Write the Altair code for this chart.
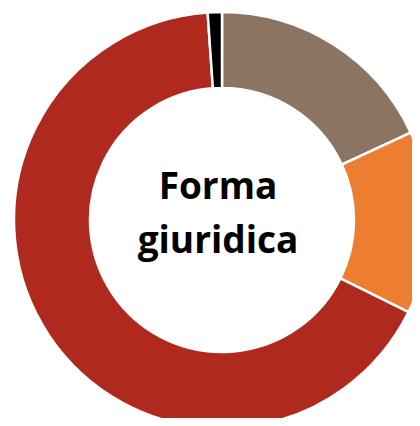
import altair as alt
import pandas as pd

categories = ["Categoria A", "Categoria B", "Categoria C", "Categoria D"]
values = [18.1, 14.2, 66.6, 1.1]
colors = ["#8B7461", "#ED7D31", "#B0291F", "#000000"]
center_lines = ["Forma", "giuridica"]

df = pd.DataFrame({"categoria": categories, "valore": values, "ordine": list(range(len(categories)))})

arc = alt.Chart(df).mark_arc(
    outerRadius=208, innerRadius=132, stroke="white", strokeWidth=2.5
).encode(
    theta=alt.Theta("valore:Q", stack=True),
    order=alt.Order("ordine:Q"),
    color=alt.Color("categoria:N", scale=alt.Scale(domain=categories, range=colors), legend=None),
    x=alt.value(214),
    y=alt.value(212),
)

text = alt.Chart(df).mark_text(
    font="Open Sans", fontWeight="bold", fontSize=37, align="center", baseline="alphabetic",
    lineHeight=54, color="black"
).encode(
    x=alt.value(210),
    y=alt.value(191),
    text=alt.value(center_lines),
).transform_filter(alt.datum.ordine == 0)

chart = alt.layer(arc, text).properties(
    width=404, height=410, padding=0, autosize=alt.AutoSizeParams(type="none")
).configure_view(stroke=None)

chart.save("out.html", embed_options={"renderer": "svg", "actions": False})
